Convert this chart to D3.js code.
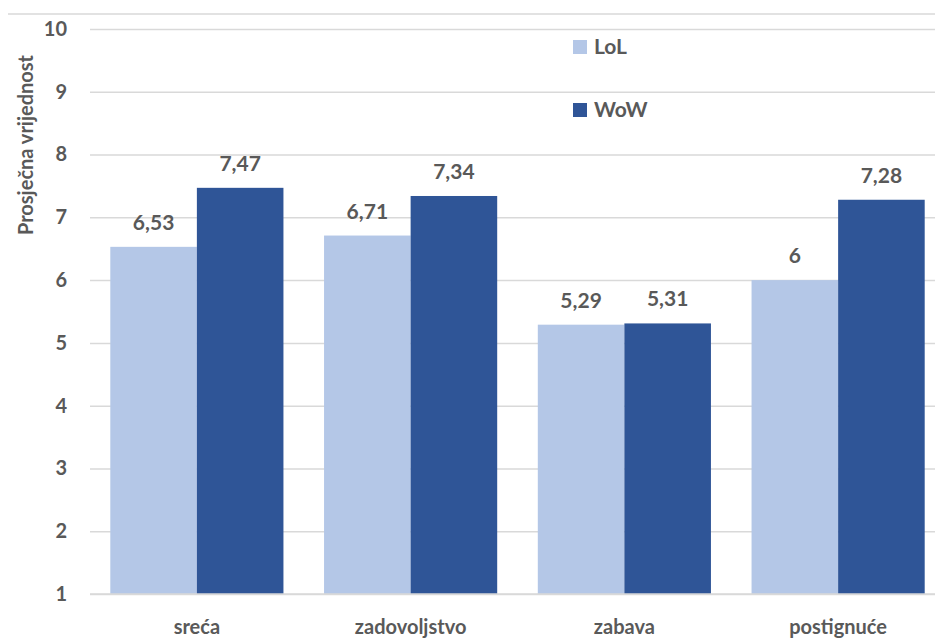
<!DOCTYPE html>
<html>
<head>
    <meta charset="utf-8">
    <script src="https://d3js.org/d3.v7.min.js"></script>
    <style>
        body { margin: 0; background: white; }
        text { font-family: Lato, "Open Sans", sans-serif; font-weight: bold; fill: #595959; }
    </style>
</head>
<body>
<div id="chart"></div>
<script>
    // data
    var categories = ["sreća", "zadovoljstvo", "zabava", "postignuće"];
    var series = ["LoL", "WoW"];
    var lolValues = [6.53, 6.71, 5.29, 6];
    var wowValues = [7.47, 7.34, 5.31, 7.28];
    var lolLabels = ["6,53", "6,71", "5,29", "6"];
    var wowLabels = ["7,47", "7,34", "5,31", "7,28"];
    var yTicks = [1, 2, 3, 4, 5, 6, 7, 8, 9, 10];
    var colors = {LoL: "#B4C7E7", WoW: "#2F5597"};

    var W = 935, H = 638;

    var svg = d3.select("#chart")
        .append("svg")
        .attr("width", W)
        .attr("height", H);

    // scales
    var y = d3.scaleLinear().domain([1, 10]).range([594, 29]);
    var x = d3.scaleBand().domain(categories).range([90, 945]).paddingInner(0.19).paddingOuter(0.095);
    var xs = d3.scaleBand().domain(series).range([0, x.bandwidth()]);

    // top border line
    svg.append("line")
       .attr("x1", 8).attr("x2", W)
       .attr("y1", 14).attr("y2", 14)
       .attr("stroke", "#d9d9d9").attr("stroke-width", 1.5);

    // gridlines + y tick labels
    var yAxis = svg.append("g")
        .attr("transform", "translate(90,0)")
        .call(d3.axisLeft(y).tickValues(yTicks).tickSize(-(W - 90)).tickPadding(23));
    yAxis.select(".domain").remove();
    yAxis.selectAll("line").attr("stroke", "#d9d9d9").attr("stroke-width", 1.5);
    yAxis.selectAll("text").style("font-size", "20px").attr("fill", "#595959");

    // y axis title
    svg.append("text")
       .attr("transform", "translate(33,145) rotate(-90)")
       .attr("text-anchor", "middle")
       .style("font-size", "20px")
       .text("Prosječna vrijednost");

    var rows = categories.map(function(c, i) {
        return {cat: c, vals: [
            {s: "LoL", v: lolValues[i], label: lolLabels[i]},
            {s: "WoW", v: wowValues[i], label: wowLabels[i]}
        ]};
    });

    var groups = svg.selectAll("g.grp")
        .data(rows)
        .enter()
        .append("g")
        .attr("class", "grp")
        .attr("transform", function(d) { return "translate(" + x(d.cat) + ",0)"; });

    groups.selectAll("rect")
        .data(function(d) { return d.vals; })
        .enter()
        .append("rect")
        .attr("x", function(d) { return xs(d.s); })
        .attr("width", xs.bandwidth())
        .attr("y", function(d) { return y(d.v); })
        .attr("height", function(d) { return y(1) - y(d.v); })
        .attr("fill", function(d) { return colors[d.s]; });

    groups.selectAll("text.val")
        .data(function(d) { return d.vals; })
        .enter()
        .append("text")
        .attr("class", "val")
        .attr("x", function(d) { return xs(d.s) + xs.bandwidth() / 2; })
        .attr("y", function(d) { return y(d.v) - 17; })
        .attr("text-anchor", "middle")
        .style("font-size", "21px")
        .text(function(d) { return d.label; });

    // baseline
    svg.append("line")
       .attr("x1", 90).attr("x2", W)
       .attr("y1", y(1)).attr("y2", y(1))
       .attr("stroke", "#d9d9d9").attr("stroke-width", 1.5);

    // category labels
    svg.selectAll("text.cat")
        .data(categories)
        .enter()
        .append("text")
        .attr("class", "cat")
        .attr("x", function(d) { return x(d) + x.bandwidth() / 2; })
        .attr("y", 634)
        .attr("text-anchor", "middle")
        .style("font-size", "20px")
        .text(function(d) { return d; });

    // legend
    var legend = svg.selectAll("g.leg")
        .data(series)
        .enter()
        .append("g")
        .attr("class", "leg")
        .attr("transform", function(d, i) { return "translate(573," + (40 + i * 63) + ")"; });
    legend.append("rect")
        .attr("width", 14).attr("height", 14)
        .attr("fill", function(d) { return colors[d]; });
    legend.append("text")
        .attr("x", 21).attr("y", 14)
        .style("font-size", "21px")
        .text(function(d) { return d; });
</script>
</body>
</html>
